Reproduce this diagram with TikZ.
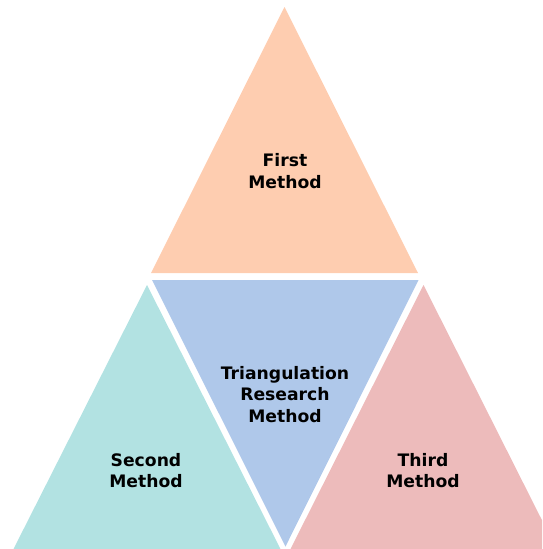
\documentclass[tikz,border=0pt]{standalone}
\usepackage{fontspec}
\setmainfont{DejaVu Sans}
\definecolor{peach}{HTML}{FECDB0}
\definecolor{skyblue}{HTML}{AFC8EA}
\definecolor{aqua}{HTML}{B2E2E2}
\definecolor{rose}{HTML}{EDBBBB}
\tikzset{
  label text/.style={font=\bfseries\fontsize{17.2}{21.5}\selectfont, align=center, text=black, inner sep=0pt}
}
\begin{document}
\begin{tikzpicture}[x=1pt,y=-1pt]
  \useasboundingbox (0,0) rectangle (542,549);
  \begin{scope}
    \clip (0,0) rectangle (542,549);
    % upper triangle
    \coordinate (tA) at (284.5,7);
    \coordinate (tL) at (151,273);
    \coordinate (tR) at (418,273);
    \fill[peach] (tA) -- (tR) -- (tL) -- cycle;
    % central inverted triangle
    \coordinate (cL) at (152,280);
    \coordinate (cR) at (418.5,280);
    \coordinate (cB) at (285.5,546.5);
    \fill[skyblue] (cL) -- (cR) -- (cB) -- cycle;
    % lower left triangle
    \coordinate (lA) at (147,285);
    \coordinate (lL) at (13,550);
    \coordinate (lR) at (281,550);
    \fill[aqua] (lA) -- (lR) -- (lL) -- cycle;
    % lower right triangle
    \coordinate (rA) at (423.5,285);
    \coordinate (rL) at (290,550);
    \coordinate (rR) at (557,550);
    \fill[rose] (rA) -- (rR) -- (rL) -- cycle;
  \end{scope}
  \node[label text] (first) at (285,171) {First\\Method};
  \node[label text] (center) at (285,394.5) {Triangulation\\Research\\Method};
  \node[label text] (second) at (146,470.5) {Second\\Method};
  \node[label text] (third) at (423,470.5) {Third\\Method};
\end{tikzpicture}
\end{document}
